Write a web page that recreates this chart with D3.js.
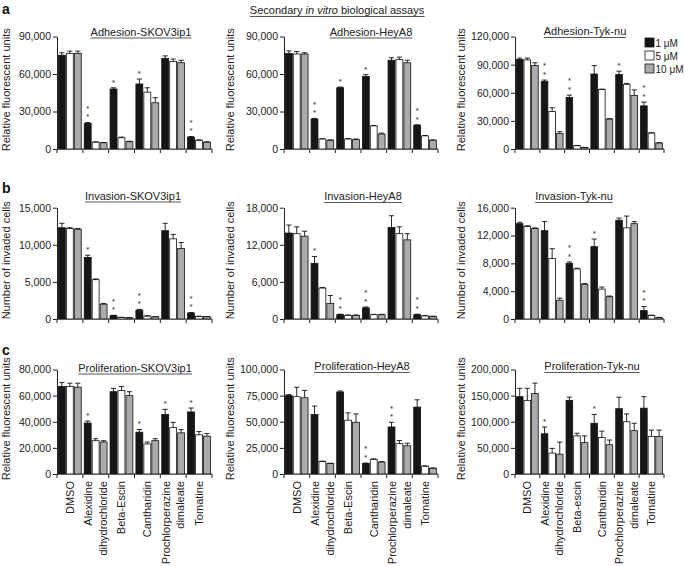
<!DOCTYPE html>
<html><head><meta charset="utf-8">
<script src="https://cdn.jsdelivr.net/npm/d3@7"></script>
<style>
html,body{margin:0;padding:0;background:#fff;}
svg{display:block;font-family:"Liberation Sans",Arial,Helvetica,sans-serif;}
</style></head><body>
<svg id="chart" width="685" height="566"></svg>
<script>
// ---------- DATA ----------
const doses = ["1 \u03bcM", "5 \u03bcM", "10 \u03bcM"];
const drugs = ["DMSO", "Alexidine dihydrochloride", "Beta-Escin", "Cantharidin", "Prochlorperazine dimaleate", "Tomatine"];
const drugLabels = [["DMSO"], ["Alexidine", "dihydrochloride"], ["Beta-Escin"], ["Cantharidin"], ["Prochlorperazine", "dimaleate"], ["Tomatine"]];
const drugLabelsTyk = [["DMSO"], ["Alexidine", "dihydrochloride"], ["Beta-escin"], ["Cantharidin"], ["Prochlorperazine", "dimaleate"], ["Tomatine"]];

// a) Adhesion
const adhSKOV_mean = [[75000, 20500, 48000, 52000, 72500, 9500], [76500, 5500, 9000, 45500, 70000, 7000], [76500, 5000, 5800, 37000, 69000, 5500]];
const adhSKOV_err  = [[2000, 700, 1000, 4000, 2000, 500], [1800, 200, 500, 3500, 2000, 300], [1800, 200, 400, 4000, 2000, 300]];
const adhSKOV_stars = [0, 2, 1, 1, 0, 2];
const adhSKOV_ticks = [0, 30000, 60000, 90000];

const adhHey_mean = [[76500, 24000, 49000, 58000, 71000, 19000], [76000, 8000, 8000, 18500, 71500, 10500], [76000, 7000, 7500, 12000, 69000, 7000]];
const adhHey_err  = [[2000, 500, 600, 1500, 2000, 400], [2000, 200, 300, 300, 2000, 300], [1000, 300, 500, 700, 2000, 300]];
const adhHey_stars = [0, 2, 1, 1, 0, 2];
const adhHey_ticks = [0, 30000, 60000, 90000];

const adhTyk_mean = [[95500, 72000, 55000, 80000, 79500, 46000], [95000, 40000, 3500, 63500, 69000, 17000], [89000, 16500, 1500, 32000, 57000, 6500]];
const adhTyk_err  = [[1500, 1500, 2500, 9000, 3500, 4000], [2000, 4000, 300, 400, 1000, 300], [3000, 2000, 200, 300, 6000, 300]];
const adhTyk_stars = [0, 2, 2, 0, 1, 2];
const adhTyk_ticks = [0, 30000, 60000, 90000, 120000];

// b) Invasion
const invSKOV_mean = [[12300, 8300, 450, 1200, 11900, 800], [12200, 5300, 200, 400, 10800, 350], [12100, 2000, 150, 300, 9500, 300]];
const invSKOV_err  = [[600, 300, 50, 100, 1000, 80], [100, 100, 30, 40, 600, 30], [100, 100, 30, 30, 800, 30]];
const invSKOV_stars = [0, 1, 2, 2, 0, 2];
const invSKOV_ticks = [0, 5000, 10000, 15000];

const invHey_mean = [[13900, 9000, 700, 1800, 14800, 700], [13800, 5000, 600, 700, 13800, 500], [13400, 2500, 600, 700, 12800, 400]];
const invHey_err  = [[1300, 1100, 80, 150, 1900, 80], [1100, 100, 50, 50, 1100, 50], [800, 1300, 50, 50, 1000, 50]];
const invHey_stars = [0, 1, 2, 2, 0, 2];
const invHey_ticks = [0, 6000, 12000, 18000];

const invTyk_mean = [[13700, 12700, 8000, 10400, 14200, 1200], [13300, 8700, 7200, 4300, 13100, 500], [13000, 2700, 5000, 3200, 13700, 200]];
const invTyk_err  = [[200, 1300, 200, 1100, 300, 600], [100, 1400, 100, 300, 1700, 50], [100, 300, 100, 100, 300, 30]];
const invTyk_stars = [0, 0, 2, 1, 0, 2];
const invTyk_ticks = [0, 4000, 8000, 12000, 16000];

// c) Proliferation
const proSKOV_mean = [[67000, 39000, 63000, 32000, 45500, 47500], [67000, 25500, 64000, 23000, 35500, 30000], [66500, 24500, 60000, 25500, 31500, 29000]];
const proSKOV_err  = [[3000, 1500, 2500, 2000, 4000, 3000], [2500, 1500, 3000, 1500, 4000, 2500], [3000, 1000, 3000, 1500, 2500, 2000]];
const proSKOV_stars = [0, 1, 0, 1, 1, 1];
const proSKOV_ticks = [0, 20000, 40000, 60000, 80000];

const proHey_mean = [[75000, 57000, 78500, 10000, 45000, 64000], [74000, 12000, 51500, 14000, 29000, 7500], [73000, 10000, 49500, 11500, 27000, 5500]];
const proHey_err  = [[1000, 8000, 1000, 500, 4500, 7000], [9000, 300, 7000, 500, 3000, 300], [7000, 300, 8000, 300, 2500, 300]];
const proHey_stars = [0, 0, 0, 2, 2, 0];
const proHey_ticks = [0, 25000, 50000, 75000, 100000];

const proTyk_mean = [[148000, 77000, 141000, 97000, 125000, 126000], [141000, 40000, 73000, 70000, 100000, 72000], [154000, 38000, 60000, 56000, 83000, 72000]];
const proTyk_err  = [[16000, 13000, 6000, 17000, 22000, 22000], [23000, 9000, 5000, 12000, 15000, 12000], [20000, 23000, 13000, 9000, 14000, 12000]];
const proTyk_stars = [0, 1, 0, 1, 0, 0];
const proTyk_ticks = [0, 50000, 100000, 150000, 200000];

const panelTitles = ["Adhesion-SKOV3ip1", "Adhesion-HeyA8", "Adhesion-Tyk-nu",
                     "Invasion-SKOV3ip1", "Invasion-HeyA8", "Invasion-Tyk-nu",
                     "Proliferation-SKOV3ip1", "Proliferation-HeyA8", "Proliferation-Tyk-nu"];
const rowYLabels = ["Relative fluorescent units", "Number of invaded cells", "Relative fluorescent units"];
const rowLetters = ["a", "b", "c"];

// ---------- LAYOUT ----------
const colAxisX = [57, 284, 515];
const colRight = [212, 438, 664];
const rowTop = [36.5, 207.7, 369.5];
const rowBottom = [149, 319, 474];
const titlePos = [[141, 35.5], [371, 35.5], [585, 35], [133, 199.5], [363, 200], [574, 200], [135, 371.5], [362, 370], [592, 370]];
const yLabelOffset = [51, 54, 54];
const letterY = [14, 193, 355];

const panels = [
  [adhSKOV_mean, adhSKOV_err, adhSKOV_stars, adhSKOV_ticks],
  [adhHey_mean, adhHey_err, adhHey_stars, adhHey_ticks],
  [adhTyk_mean, adhTyk_err, adhTyk_stars, adhTyk_ticks],
  [invSKOV_mean, invSKOV_err, invSKOV_stars, invSKOV_ticks],
  [invHey_mean, invHey_err, invHey_stars, invHey_ticks],
  [invTyk_mean, invTyk_err, invTyk_stars, invTyk_ticks],
  [proSKOV_mean, proSKOV_err, proSKOV_stars, proSKOV_ticks],
  [proHey_mean, proHey_err, proHey_stars, proHey_ticks],
  [proTyk_mean, proTyk_err, proTyk_stars, proTyk_ticks]
].map((p, i) => ({mean: p[0], err: p[1], stars: p[2], ticks: p[3], title: panelTitles[i], row: Math.floor(i / 3), col: i % 3}));

const fills = ["#161616", "#ffffff", "#ababab"];
const TXT = "#222";

const svg = d3.select("#chart");

function underline(textSel, offset) {
  const bb = textSel.node().getBBox();
  const yb = +textSel.attr("y") + offset;
  svg.append("line").attr("x1", bb.x).attr("x2", bb.x + bb.width)
    .attr("y1", yb).attr("y2", yb).attr("stroke", "#444").attr("stroke-width", 0.9);
}

// header
const hdr = svg.append("text").attr("x", 337).attr("y", 14).attr("text-anchor", "middle")
  .attr("font-size", 11).attr("fill", TXT);
hdr.append("tspan").text("Secondary ");
hdr.append("tspan").attr("font-style", "italic").text("in vitro");
hdr.append("tspan").text(" biological assays");
underline(hdr, 2.5);

// row letters
rowLetters.forEach((l, r) => {
  svg.append("text").attr("x", 2).attr("y", letterY[r]).attr("font-size", 14)
    .attr("font-weight", "bold").attr("fill", "#111").text(l);
});

panels.forEach((p, pi) => {
  const ax = colAxisX[p.col], right = colRight[p.col];
  const top = rowTop[p.row], bottom = rowBottom[p.row];
  const y = d3.scaleLinear().domain([0, d3.max(p.ticks)]).range([bottom, top]);
  const x0 = d3.scaleBand().domain(drugs).range([ax, right]).paddingInner(0).paddingOuter(0);
  const x1 = d3.scaleBand().domain(doses).range([1.4, x0.bandwidth() - 1.6]).paddingInner(0.13);
  const g = svg.append("g");

  // y axis
  const yAxis = d3.axisLeft(y).tickValues(p.ticks).tickFormat(d3.format(","))
    .tickSize(4).tickSizeOuter(0).tickPadding(2);
  const ya = g.append("g").attr("transform", `translate(${ax},0)`).call(yAxis);
  ya.attr("font-family", null);
  ya.selectAll("text").attr("font-size", 10.5).attr("fill", TXT);
  ya.selectAll("line,path").attr("stroke", "#222");

  // x axis line with group boundary ticks
  g.append("line").attr("x1", ax).attr("x2", right).attr("y1", bottom).attr("y2", bottom).attr("stroke", "#222");
  const bounds = drugs.map(d => x0(d)).concat([x0(drugs[drugs.length - 1]) + x0.bandwidth()]);
  g.selectAll(".xt").data(bounds).join("line")
    .attr("x1", d => d).attr("x2", d => d).attr("y1", bottom).attr("y2", bottom + 4).attr("stroke", "#222");

  // bars
  doses.forEach((dose, si) => {
    const recs = drugs.map((d, j) => ({d, v: p.mean[si][j], e: p.err[si][j]}));
    g.selectAll(".b" + si).data(recs).join("rect")
      .attr("x", r => x0(r.d) + x1(dose))
      .attr("y", r => y(r.v))
      .attr("width", x1.bandwidth())
      .attr("height", r => bottom - y(r.v))
      .attr("fill", fills[si])
      .attr("stroke", "#111").attr("stroke-width", 0.8);
    // error bars
    const eg = g.selectAll(".e" + si).data(recs).join("g");
    eg.append("line")
      .attr("x1", r => x0(r.d) + x1(dose) + x1.bandwidth() / 2)
      .attr("x2", r => x0(r.d) + x1(dose) + x1.bandwidth() / 2)
      .attr("y1", r => y(r.v)).attr("y2", r => y(r.v + r.e))
      .attr("stroke", "#111").attr("stroke-width", 0.9);
    eg.append("line")
      .attr("x1", r => x0(r.d) + x1(dose) + x1.bandwidth() / 2 - 2.6)
      .attr("x2", r => x0(r.d) + x1(dose) + x1.bandwidth() / 2 + 2.6)
      .attr("y1", r => y(r.v + r.e)).attr("y2", r => y(r.v + r.e))
      .attr("stroke", "#111").attr("stroke-width", 0.9);
  });

  // significance stars above 1 uM bars
  drugs.forEach((d, j) => {
    const n = p.stars[j];
    const cx = x0(d) + x1(doses[0]) + x1.bandwidth() / 2;
    const base = y(p.mean[0][j] + p.err[0][j]);
    for (let k = 0; k < n; k++) {
      const c = base - 7 - 8.6 * k; // visual centre of the star
      g.append("text").attr("x", cx).attr("y", c + 3.9)
        .attr("text-anchor", "middle").attr("font-family", "DejaVu Sans")
        .attr("font-size", 7).attr("fill", "#333").text("*");
    }
  });

  // title
  const t = svg.append("text").attr("x", titlePos[pi][0]).attr("y", titlePos[pi][1])
    .attr("text-anchor", "middle").attr("font-size", 11).attr("fill", TXT).text(p.title);
  underline(t, 2.5);

  // y label
  const ly = (top + bottom) / 2 - 3;
  const lx = ax - yLabelOffset[p.col];
  svg.append("text").attr("transform", `translate(${lx},${ly}) rotate(-90)`)
    .attr("text-anchor", "middle").attr("dy", "0.35em").attr("font-size", 11).attr("fill", TXT)
    .text(rowYLabels[p.row]);

  // category labels on bottom row
  if (p.row === 2) {
    const labs = p.col === 2 ? drugLabelsTyk : drugLabels;
    drugs.forEach((d, j) => {
      const lines = labs[j];
      const cx = x0(d) + x0.bandwidth() / 2;
      lines.forEach((ln, k) => {
        const off = lines.length === 1 ? 0 : (k === 0 ? -7.2 : 7.2);
        svg.append("text").attr("transform", `translate(${cx + off},${bottom + 7}) rotate(-90)`)
          .attr("text-anchor", "end").attr("dy", "0.35em").attr("font-size", 11).attr("fill", TXT).text(ln);
      });
    });
  }
});

// legend (in Adhesion-Tyk-nu panel)
doses.forEach((d, i) => {
  const yy = 38 + i * 13;
  svg.append("rect").attr("x", 645).attr("y", yy).attr("width", 9).attr("height", 9)
    .attr("fill", fills[i]).attr("stroke", "#111").attr("stroke-width", 0.8);
  svg.append("text").attr("x", 655.5).attr("y", yy + 8.5).attr("font-size", 10).attr("fill", TXT).text(d);
});
</script>
</body></html>
